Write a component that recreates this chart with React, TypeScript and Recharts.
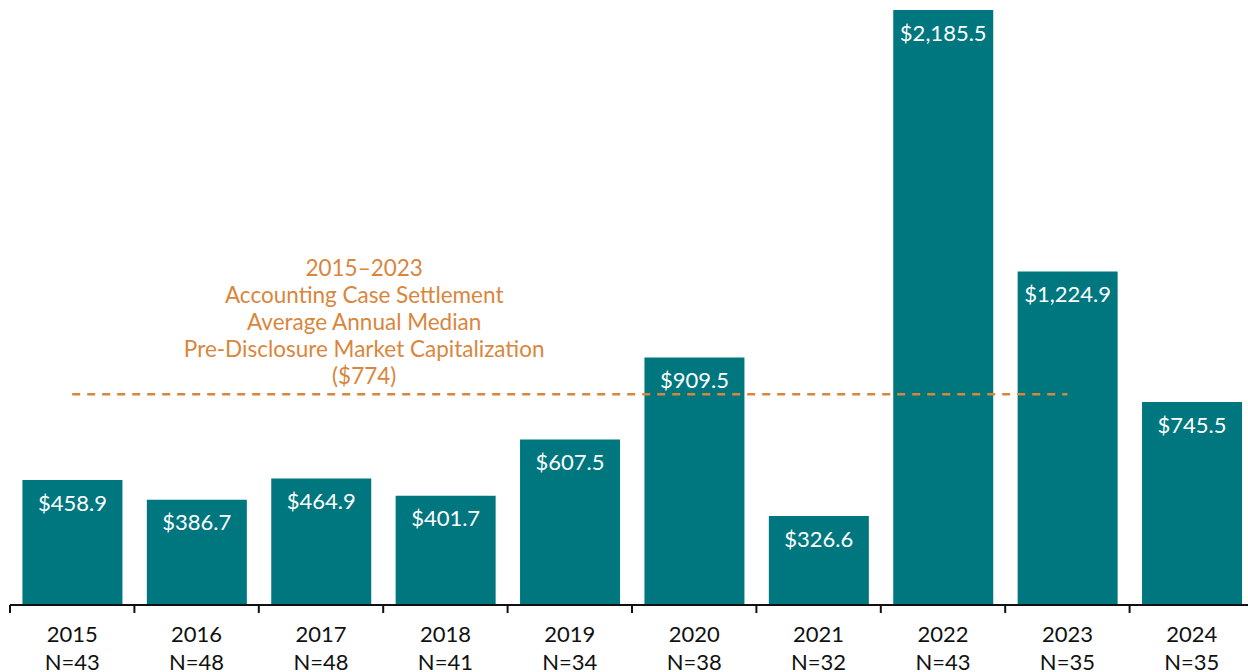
import { BarChart, Bar, XAxis, YAxis, ReferenceLine, LabelList } from 'recharts'

const years = ['2015', '2016', '2017', '2018', '2019', '2020', '2021', '2022', '2023', '2024']
const counts = [43, 48, 48, 41, 34, 38, 32, 43, 35, 35]
const medianCap = [458.9, 386.7, 464.9, 401.7, 607.5, 909.5, 326.6, 2185.5, 1224.9, 745.5]
const boundaryTicks = [0, 1, 2, 3, 4, 5, 6, 7, 8, 9, 10]
const avgLine = 774
const avgLabel = ['2015–2023', 'Accounting Case Settlement', 'Average Annual Median', 'Pre-Disclosure Market Capitalization', '($774)']

const TEAL = '#00777f'
const ORANGE = '#d9863d'

const data = years.map((y, i) => ({ year: y, n: counts[i], value: medianCap[i], pos: i + 0.5 }))

const fmt = (v: number) => '$' + v.toLocaleString('en-US', { minimumFractionDigits: 1, maximumFractionDigits: 1 })

function YearTick(props: any) {
  const { x, y, payload, index } = props
  return (
    <text x={x} y={y} textAnchor="middle" fill="#111" fontSize={22}>
      <tspan x={x} dy={36}>{payload.value}</tspan>
      <tspan x={x} dy={28}>N={counts[index]}</tspan>
    </text>
  )
}

function AvgLabel(props: any) {
  const vb = props.viewBox || {}
  const cx = vb.x + 292
  return (
    <text x={cx} y={vb.y} textAnchor="middle" fill={ORANGE} fontSize={22.5}>
      {avgLabel.map((t, i) => (
        <tspan key={i} x={cx} y={vb.y - 118 + i * 27}>{t}</tspan>
      ))}
    </text>
  )
}

export default function App() {
  return (
    <div style={{ position: 'absolute', left: 0, top: 0, width: 1248, height: 672, overflow: 'hidden', background: '#fff' }}>
      <BarChart
        width={1254}
        height={672}
        data={data}
        margin={{ top: 10, right: 0, left: 10, bottom: 0 }}
        barCategoryGap="10%"
        style={{ fontFamily: 'Lato, sans-serif' }}
      >
        <XAxis
          xAxisId="bounds"
          dataKey="pos"
          type="number"
          domain={[0, 10]}
          ticks={boundaryTicks}
          allowDataOverflow
          height={1}
          tick={() => <g />}
          tickSize={8}
          tickLine={{ stroke: '#111', strokeWidth: 2 }}
          axisLine={{ stroke: '#111', strokeWidth: 2 }}
        />
        <XAxis
          xAxisId="years"
          dataKey="year"
          height={66}
          axisLine={false}
          tickLine={false}
          tickSize={0}
          tickMargin={0}
          interval={0}
          tick={<YearTick />}
        />
        <YAxis hide domain={[0, 2185.5]} />
        <Bar xAxisId="years" dataKey="value" fill={TEAL} isAnimationActive={false}>
          <LabelList dataKey="value" position="insideTop" offset={15} fill="#fff" fontSize={22} formatter={(v: any) => fmt(Number(v))} />
        </Bar>
        <ReferenceLine
          xAxisId="years"
          segment={[{ x: '2015', y: avgLine }, { x: '2023', y: avgLine }]}
          stroke={ORANGE}
          strokeWidth={2.5}
          strokeDasharray="8 7"
          label={<AvgLabel />}
        />
      </BarChart>
    </div>
  )
}
